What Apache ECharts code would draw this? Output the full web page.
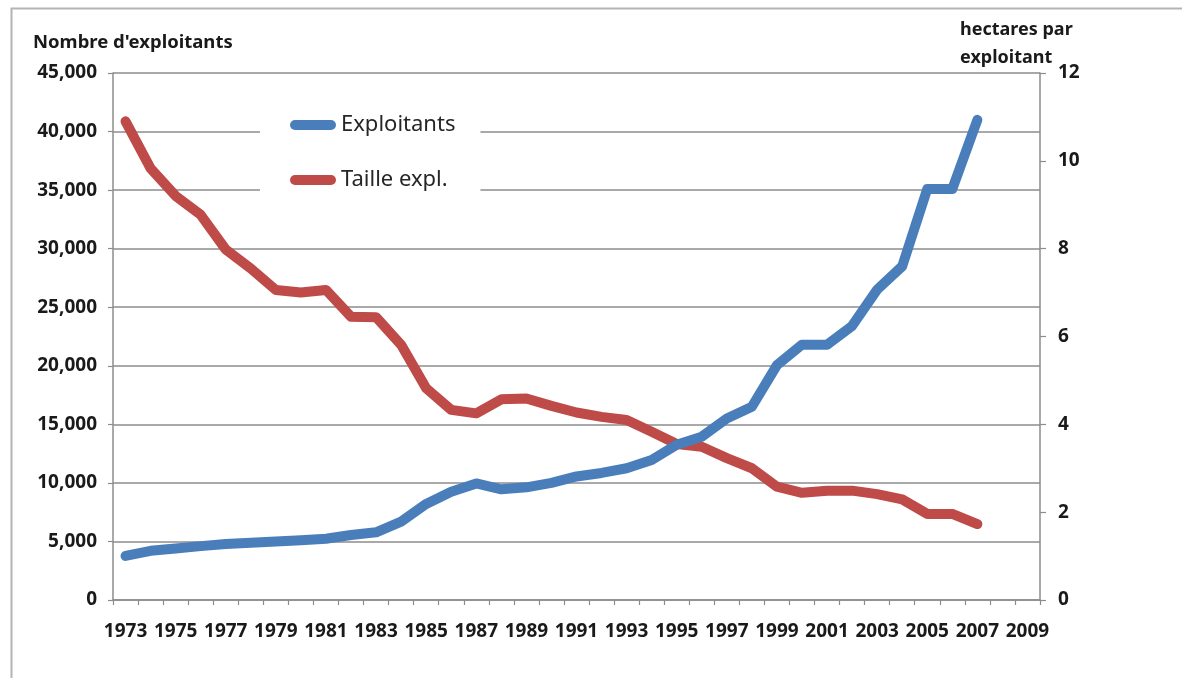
<!DOCTYPE html>
<html>
<head>
<meta charset="utf-8">
<script src="https://cdn.jsdelivr.net/npm/echarts@6/dist/echarts.min.js"></script>
<style>
  html, body { margin: 0; padding: 0; background: #fff; }
  #chart { width: 1182px; height: 678px; }
</style>
</head>
<body>
<div id="chart"></div>
<script>
// Years on the category axis (labels every other year)
const years = [];
for (let y = 1973; y <= 2009; y++) years.push(String(y));

// Number of farmers (left axis)
const exploitants = [
  3760, 4200, 4400, 4600, 4780, 4890, 5000, 5100, 5230, 5550,
  5780, 6700, 8200, 9250, 9950, 9450, 9620, 10000, 10550, 10850,
  11250, 11950, 13250, 13950, 15500, 16500, 20050, 21800, 21800, 23400,
  26500, 28500, 35100, 35100, 41000, null, null
];

// Hectares per farmer (right axis)
const tailleExpl = [
  10.9, 9.83, 9.2, 8.77, 7.98, 7.55, 7.06, 7.0, 7.06, 6.45,
  6.44, 5.81, 4.82, 4.33, 4.25, 4.57, 4.59, 4.42, 4.27, 4.17,
  4.10, 3.83, 3.55, 3.49, 3.23, 3.0, 2.58, 2.44, 2.49, 2.49,
  2.41, 2.29, 1.96, 1.96, 1.73, null, null
];

const leftTitle = "Nombre d'exploitants";
const rightTitle = "hectares par\nexploitant";

const FONT = "'Noto Sans', sans-serif";
const GRAY = '#8c8c8c';
const BLUE = '#4a7ebb';
const RED = '#be4b48';
const capsule = 'path://M5,0 H41 A5,5 0 0 1 41,10 H5 A5,5 0 0 1 5,0 Z';

const chart = echarts.init(document.getElementById('chart'), null, { renderer: 'canvas' });

chart.setOption({
  backgroundColor: '#ffffff',
  animation: false,
  textStyle: { fontFamily: FONT },
  grid: { left: 113, right: 142, top: 73, bottom: 78 },
  legend: {
    orient: 'vertical',
    left: 260,
    top: 100,
    backgroundColor: '#ffffff',
    padding: [13, 25, 23, 30],
    itemWidth: 46,
    itemHeight: 10,
    itemGap: 31,
    textStyle: { fontFamily: FONT, fontSize: 22, color: '#262626', lineHeight: 24 },
    data: [
      { name: 'Exploitants', icon: capsule },
      { name: 'Taille expl.', icon: capsule }
    ]
  },
  xAxis: {
    type: 'category',
    data: years,
    boundaryGap: true,
    axisLine: { lineStyle: { color: GRAY, width: 1.5 } },
    axisTick: { show: true, interval: 0, length: 5, lineStyle: { color: GRAY, width: 1.2 } },
    axisLabel: {
      interval: 1,
      margin: 22,
      color: '#1a1a1a',
      fontFamily: FONT,
      fontWeight: 'bold',
      fontSize: 19
    },
    splitLine: { show: false }
  },
  yAxis: [
    {
      type: 'value',
      min: 0,
      max: 45000,
      interval: 5000,
      axisLine: { show: true, lineStyle: { color: GRAY, width: 1.5 } },
      axisTick: { show: true, length: 5, lineStyle: { color: GRAY, width: 1.2 } },
      axisLabel: {
        margin: 16,
        color: '#1a1a1a',
        fontFamily: FONT,
        fontWeight: 'bold',
        fontSize: 19,
        formatter: v => v.toLocaleString('en-US')
      },
      splitLine: { show: true, lineStyle: { color: GRAY, width: 1.5 } }
    },
    {
      type: 'value',
      min: 0,
      max: 12,
      interval: 2,
      position: 'right',
      axisLine: { show: true, lineStyle: { color: GRAY, width: 1.5 } },
      axisTick: { show: true, length: 6, lineStyle: { color: GRAY, width: 1.2 } },
      axisLabel: {
        margin: 18,
        color: '#1a1a1a',
        fontFamily: FONT,
        fontWeight: 'bold',
        fontSize: 19
      },
      splitLine: { show: false }
    }
  ],
  series: [
    {
      name: 'Exploitants',
      type: 'line',
      yAxisIndex: 0,
      data: exploitants,
      showSymbol: false,
      symbol: 'none',
      color: BLUE,
      lineStyle: { color: BLUE, width: 10, cap: 'round', join: 'round' },
      z: 3
    },
    {
      name: 'Taille expl.',
      type: 'line',
      yAxisIndex: 1,
      data: tailleExpl,
      showSymbol: false,
      symbol: 'none',
      color: RED,
      lineStyle: { color: RED, width: 10, cap: 'round', join: 'round' },
      z: 2
    }
  ],
  graphic: [
    {
      type: 'rect',
      left: 9, top: 6,
      shape: { width: 1300, height: 800 },
      style: { fill: 'none', stroke: '#b4b4b4', lineWidth: 2 },
      silent: true
    },
    {
      type: 'text',
      left: 33, top: 33,
      style: { text: leftTitle, fontFamily: FONT, fontWeight: 'bold', fontSize: 18.5, fill: '#1a1a1a' }
    },
    {
      type: 'text',
      left: 960, top: 16,
      style: { text: rightTitle, fontFamily: FONT, fontWeight: 'bold', fontSize: 18, lineHeight: 28, fill: '#1a1a1a' }
    }
  ]
});
</script>
</body>
</html>
